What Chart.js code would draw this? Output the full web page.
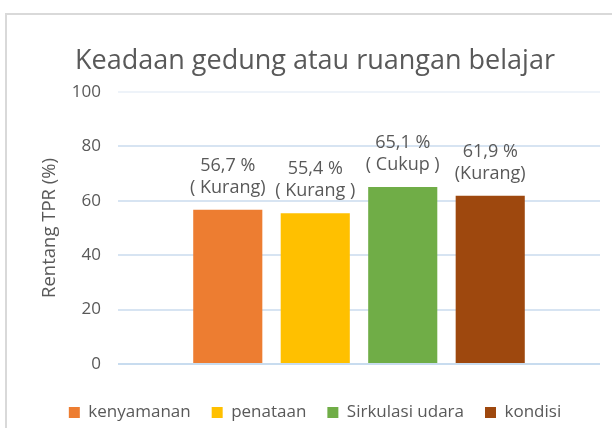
<!DOCTYPE html>
<html>
<head>
<meta charset="utf-8">
<script src="https://cdn.jsdelivr.net/npm/chart.js@4.4.1/dist/chart.umd.min.js"></script>
<style>
  html, body { margin: 0; padding: 0; background: #ffffff; overflow: hidden; }
  #frame { position: absolute; left: 5px; top: 13px; width: 700px; height: 500px; border: 2px solid #d9d9d9; box-sizing: border-box; }
  #wrap { position: absolute; left: 0; top: 0; width: 612px; height: 428px; }
</style>
</head>
<body>
<div id="frame"></div>
<div id="wrap"><canvas id="c" width="612" height="428"></canvas></div>
<script>
const categories = ['kenyamanan', 'penataan', 'Sirkulasi udara', 'kondisi'];
const values = [56.7, 55.4, 65.1, 61.9];
const valueLabels = ['56,7 %', '55,4 %', '65,1 %', '61,9 %'];
const statusLabels = ['( Kurang)', '( Kurang )', '( Cukup )', '(Kurang)'];
const colors = ['#ED7D31', '#FFC000', '#70AD47', '#9E480E'];
const yTicks = [0, 20, 40, 60, 80, 100];

const FONT = "'Open Sans', 'Noto Sans', sans-serif";
const TXT = '#595959';

const datasets = categories.map((name, i) => ({
  label: name,
  data: [values[i]],
  backgroundColor: colors[i],
  borderWidth: 0,
  categoryPercentage: 0.726,
  barPercentage: 0.79
}));

const labelPlugin = {
  id: 'barLabels',
  afterDatasetsDraw(chart) {
    const ctx = chart.ctx;
    ctx.save();
    ctx.fillStyle = TXT;
    ctx.font = "18px " + FONT;
    ctx.textAlign = 'center';
    ctx.textBaseline = 'middle';
    chart.data.datasets.forEach((ds, i) => {
      const meta = chart.getDatasetMeta(i);
      const el = meta.data[0];
      ctx.fillText(statusLabels[i], el.x, el.y - 22);
      ctx.fillText(valueLabels[i], el.x, el.y - 44);
    });
    ctx.restore();
  }
};

new Chart(document.getElementById('c'), {
  type: 'bar',
  data: { labels: [''], datasets },
  options: {
    responsive: false,
    animation: false,
    devicePixelRatio: 1,
    layout: { padding: { left: 30, right: 12, top: 45, bottom: -3 } },
    plugins: {
      title: {
        display: true,
        text: 'Keadaan gedung atau ruangan belajar',
        color: TXT,
        font: { family: FONT, size: 27, weight: 'normal' },
        padding: { top: 0, bottom: 14.6 }
      },
      legend: {
        position: 'bottom',
        labels: {
          color: TXT,
          font: { family: FONT, size: 17 },
          boxWidth: 11,
          boxHeight: 11,
          padding: 21
        }
      },
      tooltip: { enabled: false }
    },
    scales: {
      x: {
        ticks: { display: false },
        grid: { display: false },
        border: { display: false },
        afterFit: s => { s.height = 19; }
      },
      y: {
        min: 0,
        max: 100,
        afterBuildTicks: s => { s.ticks = yTicks.map(v => ({ value: v })); },
        ticks: {
          color: TXT,
          font: { family: FONT, size: 17 },
          padding: 17
        },
        grid: {
          drawTicks: false,
          color: c => c.tick && c.tick.value === 100 ? '#EEF3F9' : (c.tick && c.tick.value === 0 ? '#C8DCEF' : '#D7E4F2'),
          lineWidth: 2
        },
        border: { display: false },
        title: {
          display: true,
          text: 'Rentang TPR (%)',
          color: TXT,
          font: { family: FONT, size: 18.5 },
          padding: { top: 9, bottom: 0 }
        },
        afterFit: s => { s.width = 88; }
      }
    }
  },
  plugins: [labelPlugin]
});
</script>
</body>
</html>
